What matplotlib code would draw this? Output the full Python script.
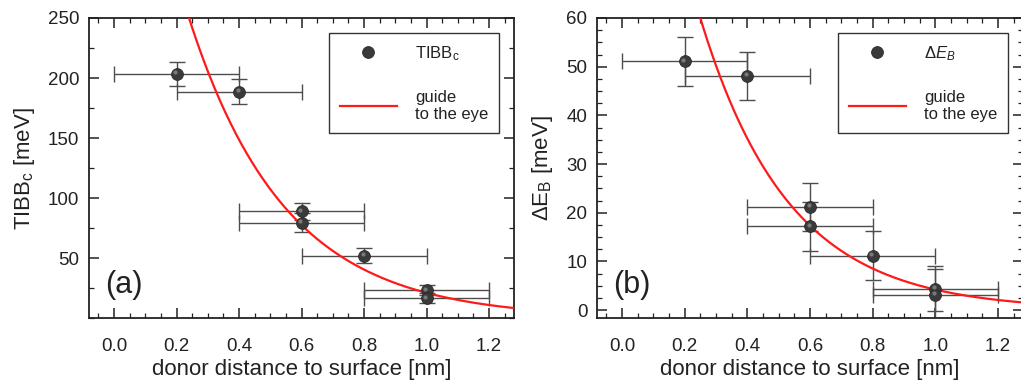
import numpy as np
import matplotlib
matplotlib.use('Agg')
import matplotlib.pyplot as plt
from matplotlib.ticker import MultipleLocator
from matplotlib.transforms import offset_copy

plt.rcParams['font.family'] = ['Liberation Sans', 'DejaVu Sans']
plt.rcParams['mathtext.fontset'] = 'custom'
plt.rcParams['mathtext.rm'] = 'Liberation Sans'
plt.rcParams['mathtext.it'] = 'Liberation Sans:italic'
plt.rcParams['text.color'] = '#222222'
plt.rcParams['axes.labelcolor'] = '#222222'

# data
distance = [0.2, 0.4, 0.6, 0.6, 0.8, 1.0, 1.0]
distance_err = [0.2, 0.2, 0.2, 0.2, 0.2, 0.2, 0.2]
tibb = [203.6, 188.6, 89.2, 79.7, 52.2, 23.4, 16.7]
tibb_err = [10, 10.5, 7, 8, 6, 4, 4]
delta_eb = [51.1, 48.1, 21.2, 17.2, 11.2, 4.4, 3.1]
delta_eb_err = [5, 5, 5, 5, 5, 4.7, 5.3]

# guide to the eye: y = amplitude * exp(-x / decay)
guide_a = (545.0, 0.308)
guide_b = (145.5, 0.282)

xticks = [0.0, 0.2, 0.4, 0.6, 0.8, 1.0, 1.2]

fig = plt.figure(figsize=(10.21, 3.87), dpi=100)
ax1 = fig.add_axes([89 / 1021, 0.1775, 425 / 1021, 0.776])
ax2 = fig.add_axes([597 / 1021, 0.1775, 426 / 1021, 0.776])

x_fit = np.linspace(-0.08, 1.3, 400)


def draw_panel(ax, y, yerr, guide, label, ylabel, tag):
    ax.errorbar(distance, y, xerr=distance_err, yerr=yerr, fmt='none',
                ecolor='#4d4d4d', elinewidth=1.0, capsize=5.5, capthick=1.0, zorder=2)
    amp, decay = guide
    ax.plot(x_fit, amp * np.exp(-x_fit / decay), color='#ff1a1a', lw=1.6,
            label='guide\nto the eye', zorder=3)
    ax.plot(distance, y, 'o', ms=8.5, color='#3a3a3a', mec='#2a2a2a', mew=0.6,
            label=label, zorder=4)
    # small highlight to mimic the shaded spheres
    hl = offset_copy(ax.transData, fig=fig, x=-1.5, y=1.5, units='dots')
    ax.plot(distance, y, 'o', ms=3, color='#8a8a8a', mec='none', alpha=0.8,
            transform=hl, zorder=5)

    ax.set_xlim(-0.08, 1.28)
    ax.set_xticks(xticks)
    ax.set_xticklabels(['%.1f' % t for t in xticks])
    ax.xaxis.set_minor_locator(MultipleLocator(0.05))
    ax.tick_params(which='both', direction='in', top=True, right=True,
                   color='#222222', labelcolor='#222222', labelsize=13.5)
    ax.tick_params(which='major', length=7, width=1.1)
    ax.tick_params(which='minor', length=3.5, width=0.9)
    ax.tick_params(axis='x', which='major', pad=14)
    ax.tick_params(axis='y', which='major', pad=7)
    for s in ax.spines.values():
        s.set_linewidth(1.3)
        s.set_color('#222222')

    ax.set_xlabel('donor distance to surface [nm]', fontsize=16, labelpad=3)
    ax.set_ylabel(ylabel, fontsize=16, labelpad=8)
    ax.text(0.037, 0.11, tag, transform=ax.transAxes, fontsize=22,
            ha='left', va='center')

    handles, labels = ax.get_legend_handles_labels()
    leg = ax.legend(handles[::-1], labels[::-1],
                    loc='upper right', bbox_to_anchor=(0.965, 0.95),
                    fontsize=12, frameon=True, fancybox=False, framealpha=1,
                    edgecolor='#333333', borderpad=0.65, labelspacing=1.65,
                    handlelength=3.4, handletextpad=1.1, borderaxespad=0)
    leg.get_frame().set_linewidth(1.0)


draw_panel(ax1, tibb, tibb_err, guide_a, r'TIBB$_\mathrm{c}$',
           r'TIBB$_\mathrm{c}$ [meV]', '(a)')
ax1.set_ylim(0, 250)
ax1.set_yticks([50, 100, 150, 200, 250])
ax1.yaxis.set_minor_locator(MultipleLocator(25))

draw_panel(ax2, delta_eb, delta_eb_err, guide_b, r'$\Delta E_B$',
           r'$\Delta$E$_\mathrm{B}$ [meV]', '(b)')
ax2.set_ylim(-1.7, 60)
ax2.set_yticks([0, 10, 20, 30, 40, 50, 60])
ax2.yaxis.set_minor_locator(MultipleLocator(2.5))

fig.savefig('out.png', dpi=100)
